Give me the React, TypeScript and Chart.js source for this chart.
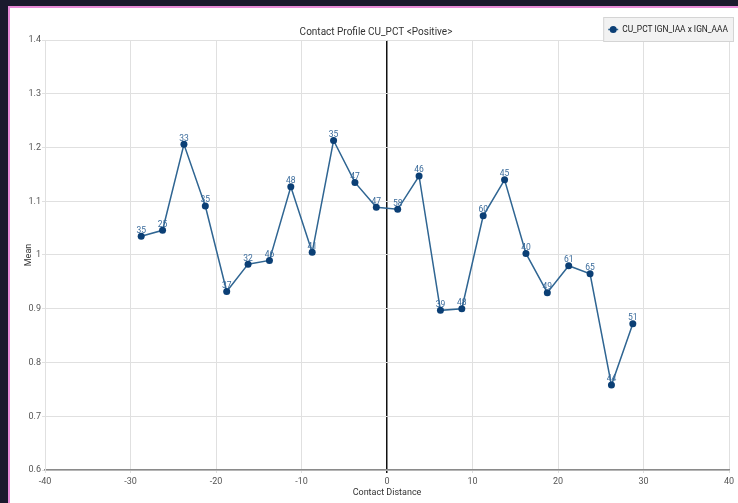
import React, { useEffect, useRef } from "react";
import { Chart, registerables } from "chart.js";

Chart.register(...registerables);

const distances = [-28.75, -26.25, -23.75, -21.25, -18.75, -16.25, -13.75, -11.25, -8.75, -6.25, -3.75, -1.25, 1.25, 3.75, 6.25, 8.75, 11.25, 13.75, 16.25, 18.75, 21.25, 23.75, 26.25, 28.75];
const means = [1.035, 1.046, 1.206, 1.091, 0.932, 0.983, 0.99, 1.127, 1.005, 1.213, 1.135, 1.089, 1.085, 1.147, 0.897, 0.9, 1.073, 1.14, 1.003, 0.93, 0.98, 0.965, 0.758, 0.872];
const counts = [35, 25, 33, 35, 37, 32, 46, 48, 41, 35, 47, 47, 58, 46, 39, 48, 60, 45, 40, 49, 61, 65, 44, 51];
const seriesName = "CU_PCT IGN_IAA x IGN_AAA";
const chartTitle = "Contact Profile CU_PCT <Positive>";
const xTitle = "Contact Distance";
const yTitle = "Mean";

const FONT = "'Roboto', sans-serif";
const LINE = "#2f6592";
const POINT = "#0b3f75";

const labelsPlugin = {
  id: "pointLabels",
  afterDatasetsDraw(chart: any) {
    const ctx = chart.ctx;
    const meta = chart.getDatasetMeta(0);
    ctx.save();
    ctx.font = `8.5px ${FONT}`;
    ctx.fillStyle = "#3a6b9b";
    ctx.textAlign = "center";
    ctx.textBaseline = "bottom";
    meta.data.forEach((el: any, i: number) => {
      ctx.fillText(String(counts[i]), el.x, el.y - 1.5);
    });
    ctx.restore();
  },
};

const legendPlugin = {
  id: "boxLegend",
  afterDraw(chart: any) {
    const ctx = chart.ctx;
    ctx.save();
    ctx.font = `8.4px ${FONT}`;
    const tw = ctx.measureText(seriesName).width;
    const w = tw + 24;
    const h = 24;
    const x = chart.width - 5 - w;
    const y = 9;
    ctx.fillStyle = "#f2f2f2";
    ctx.strokeStyle = "#d4d4d4";
    ctx.lineWidth = 1;
    ctx.fillRect(x + 0.5, y + 0.5, w, h);
    ctx.strokeRect(x + 0.5, y + 0.5, w, h);
    const cy = y + h / 2 + 0.5;
    ctx.strokeStyle = LINE;
    ctx.lineWidth = 1.5;
    ctx.beginPath();
    ctx.moveTo(x + 5, cy);
    ctx.lineTo(x + 15, cy);
    ctx.stroke();
    ctx.fillStyle = POINT;
    ctx.beginPath();
    ctx.arc(x + 10, cy, 3.5, 0, Math.PI * 2);
    ctx.fill();
    ctx.fillStyle = "#222";
    ctx.textBaseline = "middle";
    ctx.textAlign = "left";
    ctx.fillText(seriesName, x + 19, cy);
    ctx.restore();
  },
};

export default function App() {
  const ref = useRef<HTMLCanvasElement>(null);
  useEffect(() => {
    if (!ref.current) return;
    const chart = new Chart(ref.current, {
      type: "scatter",
      data: {
        datasets: [
          {
            label: seriesName,
            data: distances.map((d, i) => ({ x: d, y: means[i] })),
            showLine: true,
            borderColor: LINE,
            borderWidth: 1.5,
            backgroundColor: POINT,
            pointBackgroundColor: POINT,
            pointBorderColor: POINT,
            pointRadius: 3.5,
            pointBorderWidth: 0,
            tension: 0,
          },
        ],
      },
      options: {
        animation: false,
        responsive: false,
        maintainAspectRatio: false,
        layout: { padding: { left: 13, right: 9, top: 0, bottom: 5 } },
        plugins: {
          legend: { display: false },
          tooltip: { enabled: false },
          title: {
            display: true,
            text: chartTitle,
            color: "#333",
            font: { family: FONT, size: 10, weight: "normal" },
            padding: { top: 18, bottom: 2 },
          },
        },
        scales: {
          x: {
            type: "linear",
            min: -40,
            max: 40,
            ticks: {
              stepSize: 10,
              color: "#555",
              font: { family: FONT, size: 9 },
              padding: 3,
              maxRotation: 0,
            },
            grid: {
              color: (c: any) => (c.tick && c.tick.value === 0 ? "#111" : "#e0e0e0"),
              lineWidth: (c: any) => (c.tick && c.tick.value === 0 ? 1.5 : 1),
              tickLength: 3,
            },
            border: { color: "#8a8a8a", width: 1.5 },
            title: {
              display: true,
              text: xTitle,
              color: "#333",
              font: { family: FONT, size: 9 },
              padding: { top: 2, bottom: 0 },
            },
            afterFit: (s: any) => {
              s.height = 28;
            },
          },
          y: {
            type: "linear",
            min: 0.6,
            max: 1.4,
            ticks: {
              stepSize: 0.1,
              color: "#555",
              font: { family: FONT, size: 9 },
              padding: 1,
              callback: (v: any) => String(+Number(v).toFixed(1)),
            },
            grid: { color: "#e0e0e0", lineWidth: 1, tickLength: 3 },
            border: { color: "#e0e0e0" },
            title: {
              display: true,
              text: yTitle,
              color: "#333",
              font: { family: FONT, size: 9 },
              padding: { top: 0, bottom: 4 },
            },
            afterFit: (s: any) => {
              s.width = 22;
            },
          },
        },
      },
      plugins: [labelsPlugin, legendPlugin],
    });
    return () => chart.destroy();
  }, []);

  return (
    <div style={{ position: "fixed", left: 0, top: 0, width: 738, height: 503, background: "#1b1a2d" }}>
      <div
        style={{
          position: "absolute",
          left: 8,
          top: 6,
          width: 730,
          height: 497,
          background: "#e98bd8",
        }}
      >
        <div style={{ position: "absolute", left: 2, top: 2, width: 728, height: 495, background: "#fff" }}>
          <canvas ref={ref} width={728} height={495} style={{ display: "block" }} />
        </div>
      </div>
    </div>
  );
}
